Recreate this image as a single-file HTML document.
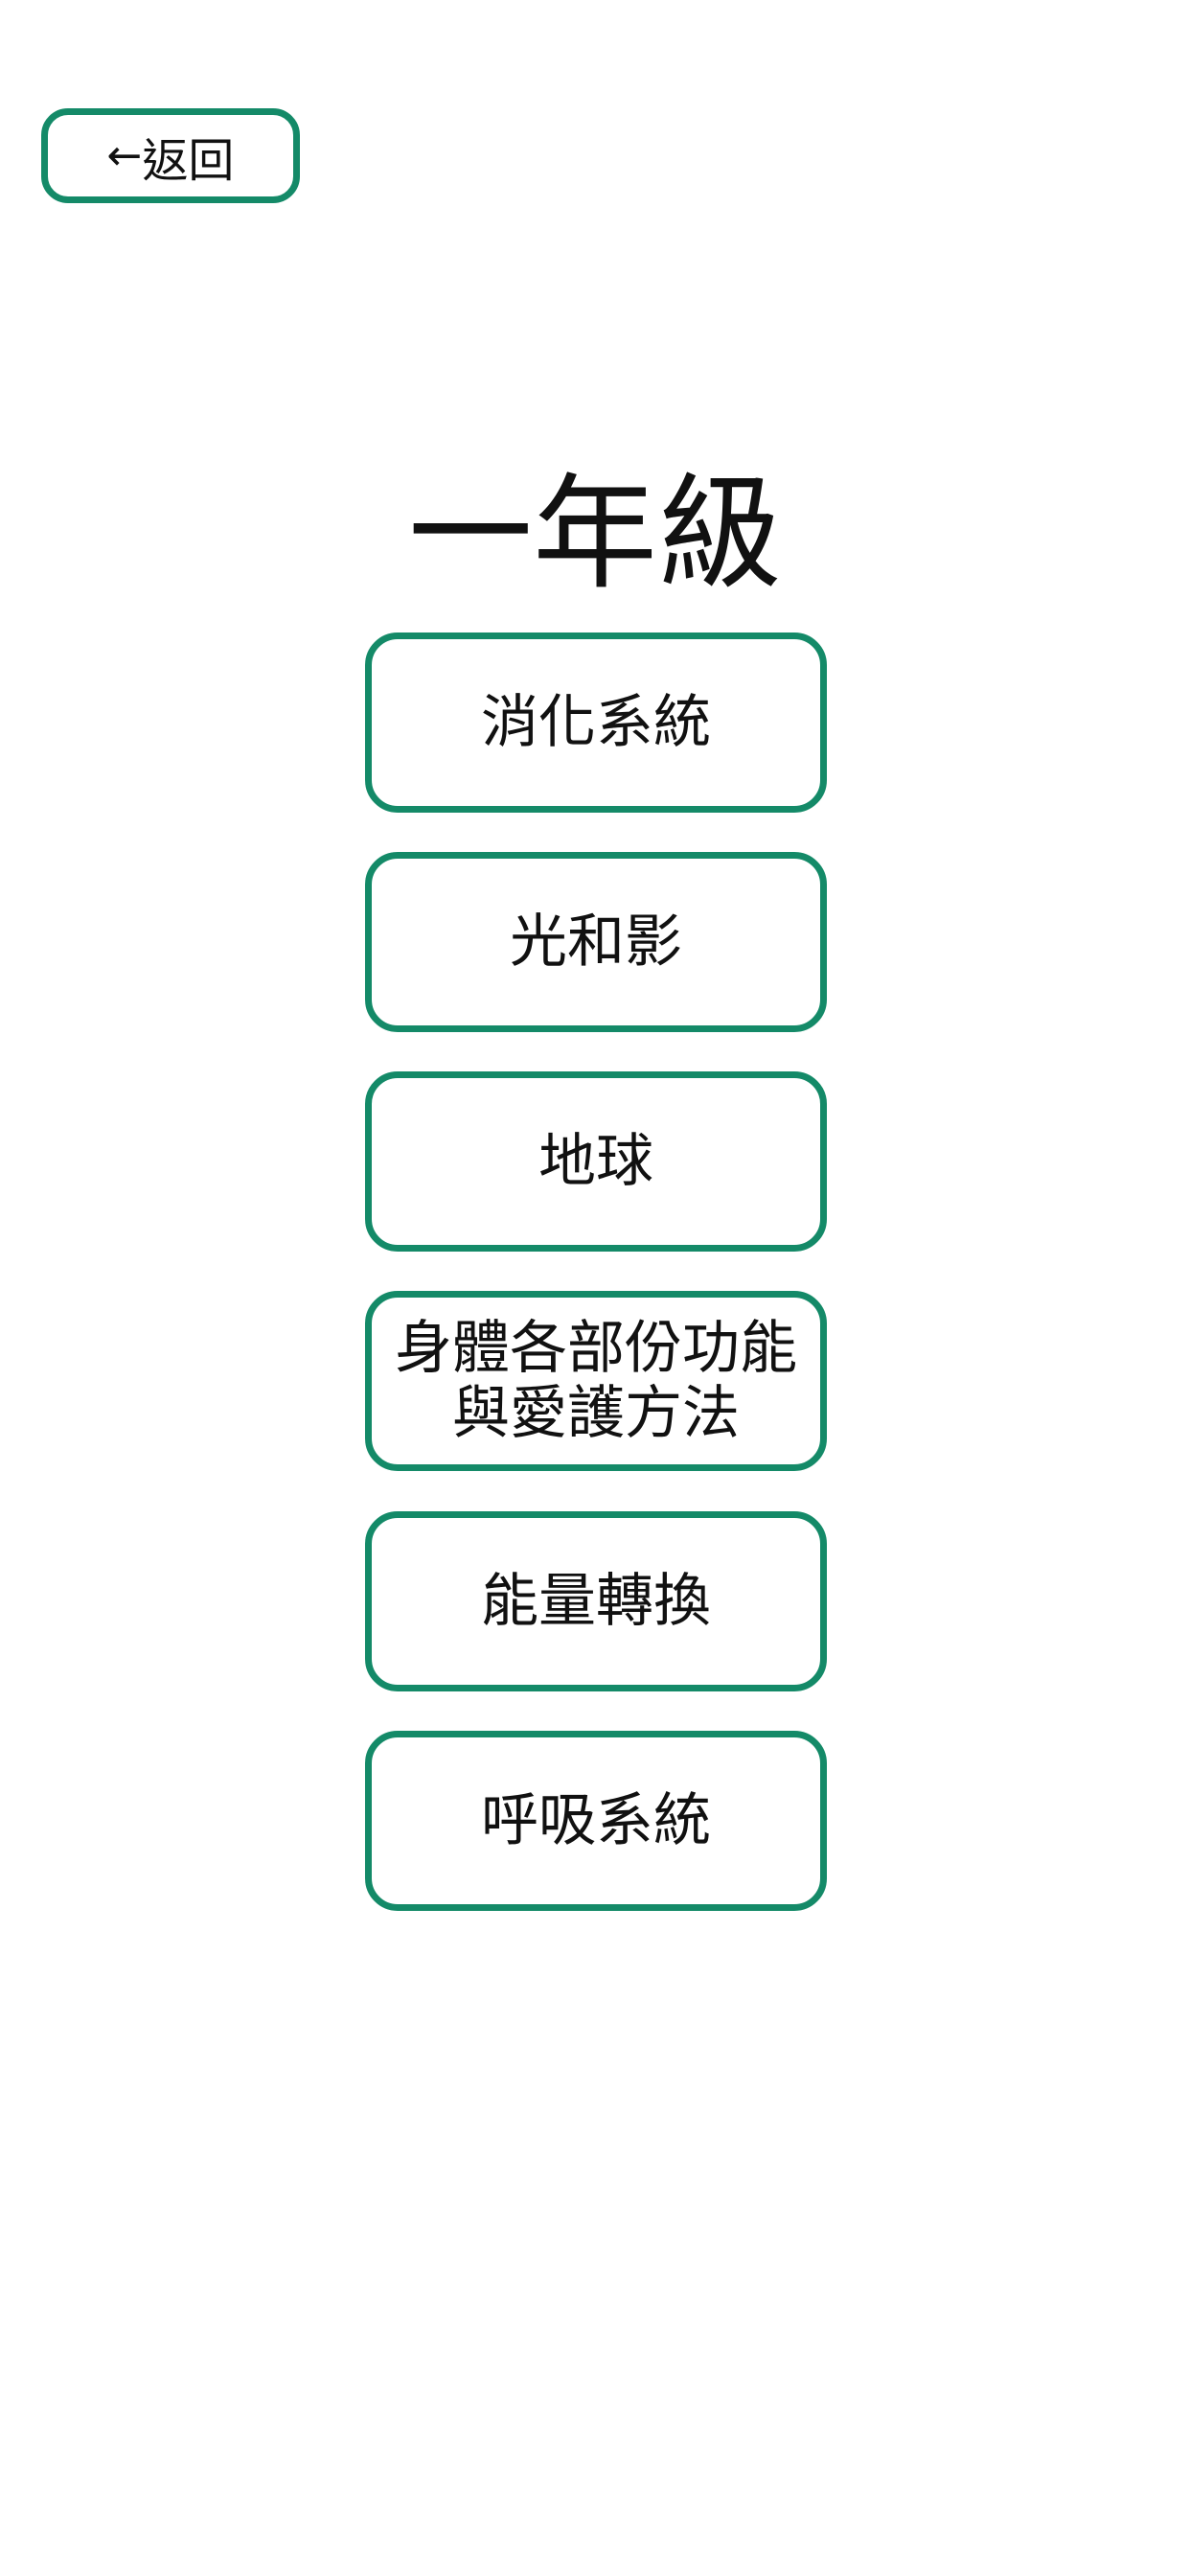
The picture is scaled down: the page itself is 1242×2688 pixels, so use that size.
<!DOCTYPE html>
<html><head><meta charset="utf-8">
<style>
html,body{margin:0;padding:0;background:#fff;}
body{width:1242px;height:2688px;position:relative;overflow:hidden;font-family:"Liberation Sans","Noto Sans CJK TC",sans-serif;color:#111;}
.b{position:absolute;box-sizing:border-box;border:7px solid #148a68;border-radius:34px;display:flex;align-items:center;justify-content:center;text-align:center;background:#fff;}
.back{left:43px;top:113px;width:270px;height:99px;border-radius:28px;font-size:48px;}
.arr{font-family:"DejaVu Sans",sans-serif;font-size:44px;}
.title{position:absolute;left:0;width:1242px;top:482px;text-align:center;font-size:130px;line-height:150px;}
.box{left:381px;width:482px;height:188px;font-size:60px;line-height:68px;}
</style></head><body>
<div class="b back"><span class="arr">←</span>返回</div>
<div class="title">一年級</div>
<div class="b box" style="top:660px">消化系統</div>
<div class="b box" style="top:889px">光和影</div>
<div class="b box" style="top:1118px">地球</div>
<div class="b box" style="top:1347px">身體各部份功能<br>與愛護方法</div>
<div class="b box" style="top:1577px">能量轉換</div>
<div class="b box" style="top:1806px">呼吸系統</div>
</body></html>
